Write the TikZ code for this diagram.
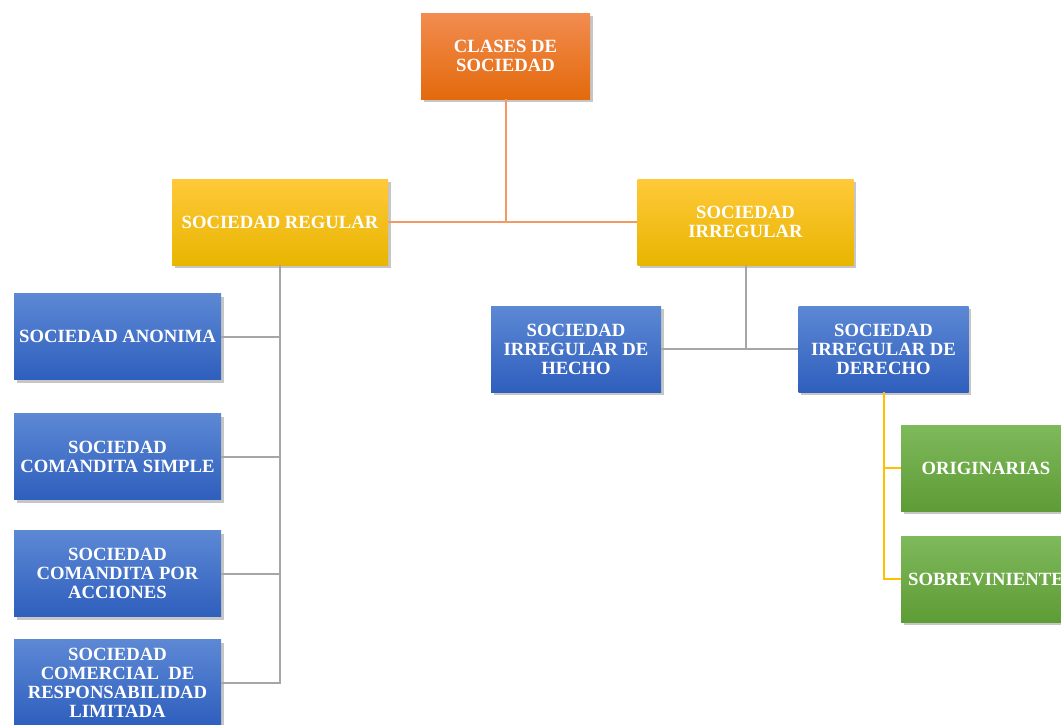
\documentclass[tikz,border=0pt]{standalone}
\usepackage{fontspec}
\setmainfont{Liberation Serif}
\usetikzlibrary{shadows}

\definecolor{naranjaA}{HTML}{F28C50}
\definecolor{naranjaB}{HTML}{E36A0C}
\definecolor{amarilloA}{HTML}{FFC93A}
\definecolor{amarilloB}{HTML}{E8B500}
\definecolor{azulA}{HTML}{5C88D4}
\definecolor{azulB}{HTML}{2F5FBE}
\definecolor{verdeA}{HTML}{7EB95B}
\definecolor{verdeB}{HTML}{5E9C36}
\definecolor{lineaNaranja}{HTML}{F29A62}
\definecolor{lineaGris}{HTML}{A6A6A6}
\definecolor{lineaAmarilla}{HTML}{FFC000}

\begin{document}
\begin{tikzpicture}[x=0.75pt, y=-0.75pt,
    every node/.style={font=\fontsize{14}{14.3}\selectfont\bfseries, text=white, align=center, inner sep=0pt},
    caja/.style={minimum height=64.5pt, drop shadow={shadow xshift=2pt, shadow yshift=-2.5pt, opacity=0.45}},
    cajaNaranja/.style={caja, top color=naranjaA, bottom color=naranjaB, minimum width=126.75pt},
    cajaAmarilla/.style={caja, top color=amarilloA, bottom color=amarilloB, minimum width=162pt},
    cajaAzul/.style={caja, top color=azulA, bottom color=azulB, minimum width=155.25pt},
    cajaAzulC/.style={caja, top color=azulA, bottom color=azulB, minimum width=127.5pt},
    cajaVerde/.style={caja, top color=verdeA, bottom color=verdeB, minimum width=127.5pt},
    lineaN/.style={draw=lineaNaranja, line width=1.5pt},
    lineaG/.style={draw=lineaGris, line width=1.5pt},
    lineaA/.style={draw=lineaAmarilla, line width=1.5pt}]
        \useasboundingbox (0,0) rectangle (1061,725);

        % Niveles superiores
        \node[cajaNaranja] (clases) at (505.5,56) {CLASES DE\\SOCIEDAD};
        \node[cajaAmarilla] (regular) at (280,222) {SOCIEDAD REGULAR};
        \node[cajaAmarilla] (irregular) at (745.5,222) {SOCIEDAD\\IRREGULAR};

        % Sociedades regulares
        \node[cajaAzul] (anonima) at (117.5,336.5) {SOCIEDAD ANONIMA};
        \node[cajaAzul] (simple) at (117.5,456.5) {SOCIEDAD\\COMANDITA SIMPLE};
        \node[cajaAzul] (acciones) at (117.5,573.5) {SOCIEDAD\\COMANDITA POR\\ACCIONES};
        \node[cajaAzul] (limitada) at (117.5,682.5) {SOCIEDAD\\COMERCIAL~~DE\\RESPONSABILIDAD\\LIMITADA};

        % Sociedades irregulares
        \node[cajaAzulC] (hecho) at (576,349) {SOCIEDAD\\IRREGULAR DE\\HECHO};
        \node[cajaAzulC] (derecho) at (883.5,349) {SOCIEDAD\\IRREGULAR DE\\DERECHO};
        \node[cajaVerde] (originarias) at (986,468) {ORIGINARIAS};
        \node[cajaVerde] (sobrev) at (986,579) {SOBREVINIENTE};

        \draw[lineaN] (clases.south) |- (regular.east);
        \draw[lineaN] (clases.south) |- (irregular.west);
        \draw[lineaG] (regular.south) |- (anonima.east);
        \draw[lineaG] (regular.south) |- (simple.east);
        \draw[lineaG] (regular.south) |- (acciones.east);
        \draw[lineaG] (regular.south) |- (limitada.east);
        \draw[lineaG] (irregular.south) |- (hecho.east);
        \draw[lineaG] (irregular.south) |- (derecho.west);
        \draw[lineaA] (derecho.south) |- (originarias.west);
        \draw[lineaA] (derecho.south) |- (sobrev.west);
    \end{tikzpicture}
\end{document}
